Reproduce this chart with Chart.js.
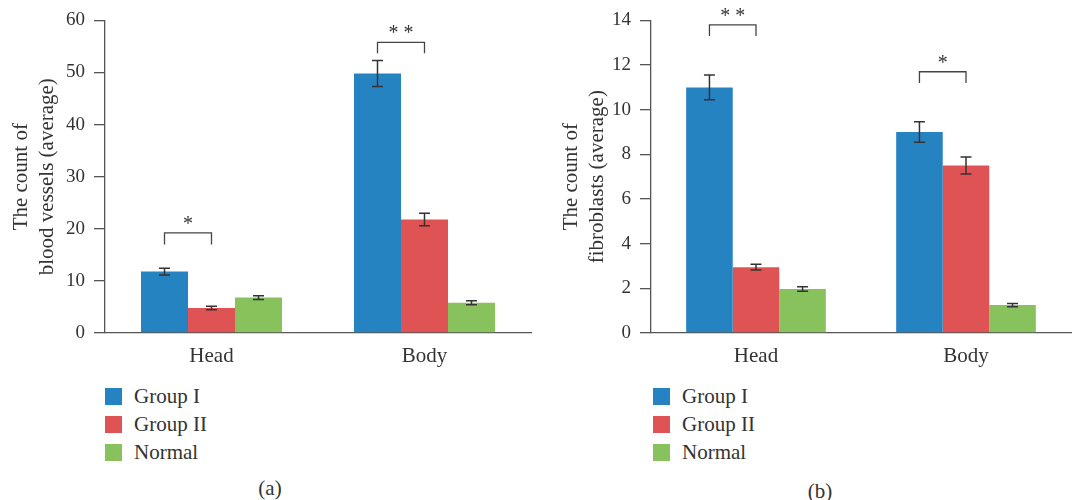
<!DOCTYPE html>
<html>
<head>
<meta charset="utf-8">
<script src="https://cdn.jsdelivr.net/npm/chart.js@4.4.1/dist/chart.umd.min.js"></script>
<style>
    body { margin: 0; background: #fff; width: 1073px; height: 500px; position: relative; overflow: hidden; font-family: 'Liberation Serif', serif; color: #333; }
    canvas { position: absolute; top: 0; }
    #chartA { left: 0; }
    #chartB { left: 540px; }
    .legend-item { position: absolute; height: 17px; line-height: 17px; font-size: 21px; white-space: nowrap; }
    .legend-item span { display: inline-block; width: 17px; height: 17px; vertical-align: top; margin-right: 12px; }
    .panel-label { position: absolute; font-size: 21px; transform: translate(-50%, -50%); }
</style>
</head>
<body>
<canvas id="chartA" width="540" height="380"></canvas>
<canvas id="chartB" width="533" height="380"></canvas>
<div id="legendA"></div>
<div id="legendB"></div>
<div class="panel-label" style="left:270px; top:488px;">(a)</div>
<div class="panel-label" style="left:820px; top:491px;">(b)</div>
<script>
// --- DADOS ---
const categories = ['Head', 'Body'];
const seriesNames = ['Group I', 'Group II', 'Normal'];
const seriesColors = ['#2683C2', '#E05355', '#87C25D'];

// (a) blood vessels
const vesselGroupI = [11.8, 49.8];
const vesselGroupII = [4.8, 21.8];
const vesselNormal = [6.8, 5.8];
const vesselGroupIErr = [0.65, 2.5];
const vesselGroupIIErr = [0.35, 1.2];
const vesselNormalErr = [0.35, 0.4];
const vesselTicks = [0, 10, 20, 30, 40, 50, 60];
const vesselBracketTop = [19.2, 55.8];
const vesselBracketLeg = [17.0, 53.7];
const vesselStars = ['*', '* *'];

// (b) fibroblasts
const fibroGroupI = [11.0, 9.0];
const fibroGroupII = [2.95, 7.5];
const fibroNormal = [1.97, 1.25];
const fibroGroupIErr = [0.55, 0.46];
const fibroGroupIIErr = [0.13, 0.38];
const fibroNormalErr = [0.1, 0.07];
const fibroTicks = [0, 2, 4, 6, 8, 10, 12, 14];
const fibroBracketTop = [13.8, 11.7];
const fibroBracketLeg = [13.3, 11.2];
const fibroStars = ['* *', '*'];

const textColor = '#333';
const axisColor = '#555';
const fontFamily = "'Liberation Serif', serif";

// --- PLUGIN: barras de erro e colchetes de significância ---
const annotationsPlugin = {
    id: 'annotations',
    afterDatasetsDraw(chart, args, opts) {
        const ctx = chart.ctx;
        const yScale = chart.scales.y;
        ctx.save();
        ctx.strokeStyle = '#333';
        ctx.lineWidth = 1.5;
        opts.errors.forEach((errs, i) => {
            const meta = chart.getDatasetMeta(i);
            const values = chart.data.datasets[i].data;
            meta.data.forEach((bar, j) => {
                const yHi = yScale.getPixelForValue(values[j] + errs[j]);
                const yLo = yScale.getPixelForValue(values[j] - errs[j]);
                ctx.beginPath();
                ctx.moveTo(bar.x, yHi); ctx.lineTo(bar.x, yLo);
                ctx.moveTo(bar.x - 5.5, yHi); ctx.lineTo(bar.x + 5.5, yHi);
                ctx.moveTo(bar.x - 5.5, yLo); ctx.lineTo(bar.x + 5.5, yLo);
                ctx.stroke();
            });
        });

        ctx.strokeStyle = '#444';
        ctx.lineWidth = 1.3;
        ctx.fillStyle = textColor;
        ctx.font = '20px ' + fontFamily;
        ctx.textAlign = 'center';
        ctx.textBaseline = 'alphabetic';
        const metaA = chart.getDatasetMeta(0);
        const metaB = chart.getDatasetMeta(1);
        opts.bracketTop.forEach((top, j) => {
            const x1 = metaA.data[j].x;
            const x2 = metaB.data[j].x;
            const yTop = yScale.getPixelForValue(top);
            const yLeg = yScale.getPixelForValue(opts.bracketLeg[j]);
            ctx.beginPath();
            ctx.moveTo(x1, yLeg); ctx.lineTo(x1, yTop); ctx.lineTo(x2, yTop); ctx.lineTo(x2, yLeg);
            ctx.stroke();
            ctx.fillText(opts.stars[j], (x1 + x2) / 2, yTop - 3);
        });
        ctx.restore();
    }
};

function buildChart(canvasId, values, errors, ticks, title, bracket, layout) {
    const ctx = document.getElementById(canvasId).getContext('2d');
    return new Chart(ctx, {
        type: 'bar',
        data: {
            labels: categories,
            datasets: values.map((v, i) => ({
                label: seriesNames[i],
                data: v,
                backgroundColor: seriesColors[i],
                borderWidth: 0,
                barPercentage: 1,
                categoryPercentage: layout.catPct
            }))
        },
        options: {
            responsive: false,
            animation: false,
            events: [],
            layout: { padding: { top: 20, right: layout.right, left: 0, bottom: 0 } },
            plugins: {
                legend: { display: false },
                tooltip: { enabled: false },
                annotations: { errors: errors, bracketTop: bracket.top, bracketLeg: bracket.leg, stars: bracket.stars }
            },
            scales: {
                x: {
                    grid: { display: false, drawTicks: false },
                    border: { display: true, color: axisColor, width: 1.3 },
                    ticks: { color: textColor, padding: 11, font: { family: fontFamily, size: 21 } },
                    afterFit: (scale) => { scale.height = 47; }
                },
                y: {
                    min: ticks[0],
                    max: ticks[ticks.length - 1],
                    afterBuildTicks: (scale) => { scale.ticks = ticks.map(v => ({ value: v })); },
                    grid: { drawOnChartArea: false, drawTicks: true, tickLength: 11, color: axisColor, lineWidth: 1.3 },
                    border: { display: true, color: axisColor, width: 1.3 },
                    ticks: { color: textColor, padding: 9, font: { family: fontFamily, size: 19 } },
                    title: {
                        display: true,
                        text: title,
                        color: textColor,
                        padding: { top: layout.titlePad, bottom: 0 },
                        font: { family: fontFamily, size: 21, lineHeight: 1.24 }
                    },
                    afterFit: (scale) => { scale.width = layout.axisWidth; }
                }
            }
        },
        plugins: [annotationsPlugin]
    });
}

function buildLegend(containerId, left) {
    const container = document.getElementById(containerId);
    const tops = [388, 416, 444];
    seriesNames.forEach((name, i) => {
        const item = document.createElement('div');
        item.className = 'legend-item';
        item.style.left = left + 'px';
        item.style.top = tops[i] + 'px';
        const box = document.createElement('span');
        box.style.background = seriesColors[i];
        item.appendChild(box);
        item.appendChild(document.createTextNode(name));
        container.appendChild(item);
    });
}

buildChart('chartA',
    [vesselGroupI, vesselGroupII, vesselNormal],
    [vesselGroupIErr, vesselGroupIIErr, vesselNormalErr],
    vesselTicks,
    ['The count of', 'blood vessels (average)'],
    { top: vesselBracketTop, leg: vesselBracketLeg, stars: vesselStars },
    { axisWidth: 105, right: 9, titlePad: 8, catPct: 0.662 });

buildChart('chartB',
    [fibroGroupI, fibroGroupII, fibroNormal],
    [fibroGroupIErr, fibroGroupIIErr, fibroNormalErr],
    fibroTicks,
    ['The count of', 'fibroblasts (average)'],
    { top: fibroBracketTop, leg: fibroBracketLeg, stars: fibroStars },
    { axisWidth: 111, right: 2, titlePad: 18, catPct: 0.665 });

buildLegend('legendA', 105);
buildLegend('legendB', 653);
</script>
</body>
</html>
